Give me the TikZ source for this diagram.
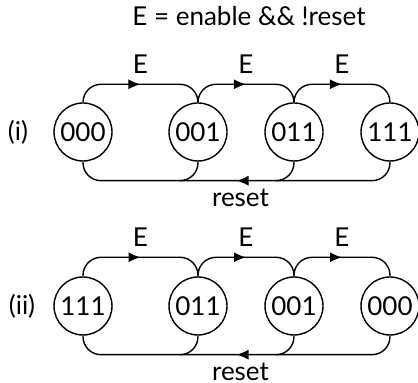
\documentclass[tikz,border=0pt]{standalone}
\usepackage{fontspec}
\setmainfont{Lato}
\usetikzlibrary{arrows.meta,decorations.markings}

\tikzset{
  cnt/.style={circle,draw,line width=0.7pt,minimum size=29pt,inner sep=0pt,
    font=\fontsize{13}{15}\selectfont},
  lbl/.style={font=\fontsize{13}{15}\selectfont,inner sep=1pt},
  flow/.style={rounded corners=9pt,line width=0.7pt,postaction={decorate},
    decoration={markings,mark=at position .5 with {\arrow{Latex[length=6pt,width=5pt]}}}},
  merge/.style={rounded corners=9pt,line width=0.7pt}
}

\begin{document}
\begin{tikzpicture}[x=0.5pt,y=-0.5pt]
    \useasboundingbox (0,0) rectangle (418,383);

    \node[lbl] (title) at (249,16) {E = enable \&\& !reset};

    % counting up
    \node[lbl] (r1) at (18,132) {(i)};
    \foreach \xpos/\val [count=\i] in {83/000,198/001,294/011,390/111}
    {%
    \node[cnt] at (\xpos,132) (a\i) {\val};
    }%
    \foreach \i/\j in {1/2,2/3,3/4}
        \draw[flow] (a\i.north) -- ++(0,-18) -| (a\j.north)
            node[lbl,pos=0.25,above=4pt] (ea\i) {E};
    \draw[flow] (a4.south) -- ++(0,19) -| (a1.south)
        node[lbl,pos=0.25,below=3pt,xshift=2pt] (ra) {reset};
    \foreach \i in {2,3}
        \draw[merge] (a\i.south) |- ++(-18,19);

    % counting down
    \node[lbl] (r2) at (22,306) {(ii)};
    \foreach \xpos/\val [count=\i] in {83/111,198/011,294/001,390/000}
    {%
    \node[cnt] at (\xpos,306) (b\i) {\val};
    }%
    \foreach \i/\j in {1/2,2/3,3/4}
        \draw[flow] (b\i.north) -- ++(0,-19) -| (b\j.north)
            node[lbl,pos=0.25,above=4pt] (eb\i) {E};
    \draw[flow] (b4.south) -- ++(0,19) -| (b1.south)
        node[lbl,pos=0.25,below=3pt,xshift=2pt] (rb) {reset};
    \foreach \i in {2,3}
        \draw[merge] (b\i.south) |- ++(-18,19);
\end{tikzpicture}
\end{document}
